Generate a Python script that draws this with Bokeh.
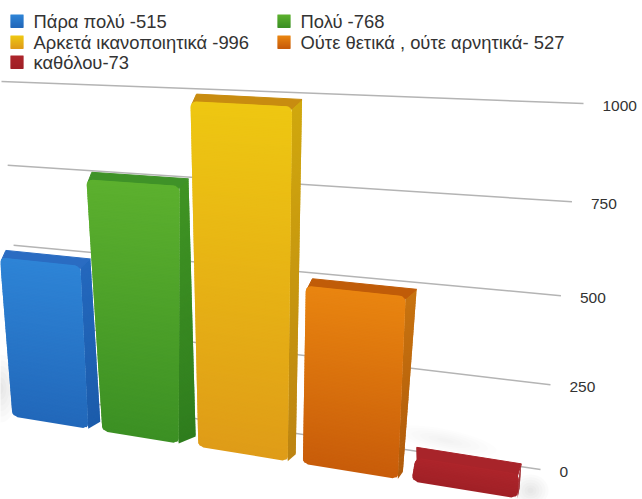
import math
from bokeh.plotting import figure
from bokeh.core.properties import value
from bokeh.embed import file_html
from bokeh.resources import INLINE

# Chart data
legend_names = ["Πάρα πολύ -", "Πολύ -", "Αρκετά ικανοποιητικά -",
                "Ούτε θετικά , ούτε αρνητικά- ", "καθόλου-"]
responses = [515, 768, 996, 527, 73]
tick_values = [0, 250, 500, 750, 1000]

# Colours per bar: front top, front bottom, side top, side bottom, top face
bar_colors = [
    ("#2e84d6", "#2268ba", "#2468bd", "#1c5cab", "#2a6cc2"),
    ("#5cb02e", "#3c9024", "#409424", "#2f7d1e", "#3f9228"),
    ("#eec712", "#df9c18", "#d0a80e", "#bd8412", "#c88c10"),
    ("#e98510", "#c85c0a", "#c87410", "#b05a0a", "#c05c08"),
    ("#ad252b", "#a02026", "#9a1e24", "#941c22", "#a8242a"),
]

# Horizontal extents of the bars along the floor line, as fractions of its length
bar_spans = [(0.0, 0.150), (0.178, 0.329), (0.368, 0.545), (0.575, 0.763), (0.790, 1.0)]
# Sideways lean of each bar's left and right edge at its top, in plot units
bar_lean = [(-1, 0), (-5, 6), (-3, 0), (0, 0), (3, 0)]
# Side-face width at the foot and at the top of each bar
bar_depth = [(12, 10), (17, 9), (8, 10), (5, 11), (2, 2)]
# Height of the top face of each bar
bar_top = [7, 7, 7, 7, 10]
corner_radius = [5, 5, 5, 5, 6]


def rise(v, k):
    # Perspective compression of the value scale
    t = v / 1000
    return t * (1 - k * (1 - t))


def lerp(a, b, t):
    return a + (b - a) * t


def plane(corners, k, s, v):
    (ax, ay), (bx, by), (cx, cy), (dx, dy) = corners
    f = rise(v, k)
    bot = (lerp(ax, bx, s), lerp(ay, by, s))
    top = (lerp(dx, cx, s), lerp(dy, cy, s))
    return lerp(bot[0], top[0], f), lerp(bot[1], top[1], f)


# Corners: floor-left, floor-right, top-right, top-left
FRONT = ((12, 416), (517, 498), (545, 118), (-12, 88))
WALL = ((24, 393), (540, 469), (583, 103), (1, 81))


def front(s, v):
    return plane(FRONT, 0.12, s, v)


def wall(s, v):
    return plane(WALL, 0.10, s, v)


def mix(c0, c1, t):
    a = [int(c0[i:i + 2], 16) for i in (1, 3, 5)]
    b = [int(c1[i:i + 2], 16) for i in (1, 3, 5)]
    return "#%02x%02x%02x" % tuple(round(lerp(x, y, t)) for x, y in zip(a, b))


p = figure(width=642, height=499, x_range=(0, 642), y_range=(499, 0),
           toolbar_location=None, output_backend="svg", min_border=0)
p.axis.visible = False
p.grid.visible = False
p.outline_line_color = None
p.background_fill_color = "white"
p.border_fill_color = "white"

# Soft contact shadows on the wall
for cx, cy, rx, ry, ang, alpha in [(0, 388, 18, 34, 0.0, 0.03),
                                   (445, 440, 52, 11, -0.2, 0.014),
                                   (530, 490, 18, 16, 0.0, 0.03)]:
    for i in range(6):
        g = 1 - i / 6
        p.ellipse(cx, cy, width=2 * rx * g, height=2 * ry * g, angle=ang,
                  fill_color="#707070", fill_alpha=alpha, line_color=None)

# Gridlines receding behind the bars, with their value labels
for tv in tick_values:
    x0, y0 = wall(0, tv)
    x1, y1 = wall(1, tv)
    p.line([x0, x1], [y0, y1], line_color="#b4b4b4", line_width=1.5)
    p.text([x1 + 19], [y1 + 2], text=[str(tv)], text_font=value("Liberation Sans"),
           text_font_size="15.5px", text_color="#333333",
           text_align="left", text_baseline="middle")


def draw_bar(val, span, lean, side, top_h, colors, radius):
    s0, s1 = span
    ftop, fbot, stop, sbot, tface = colors

    def pos(s, v):
        x, y = front(s, v)
        return x + lerp(lean[0], lean[1], (s - s0) / (s1 - s0)) * v / val, y

    def depth(v):
        return lerp(side[0], side[1], v / val), -top_h

    width_px = pos(s1, 0)[0] - pos(s0, 0)[0]
    height_px = pos(s0, 0)[1] - pos(s0, val)[1]
    n = max(10, int(height_px / 1.5))
    step = val / n

    # Right side face; each strip runs under the next one up to avoid seams
    xs, ys, cs = [], [], []
    for j in range(n):
        v0, v1 = j * step, min(val, (j + 1.8) * step)
        a, b = pos(s1, v0), pos(s1, v1)
        da, db = depth(v0), depth(v1)
        xs.append([a[0], b[0], b[0] + db[0], a[0] + da[0]])
        ys.append([a[1], b[1], b[1] + db[1], a[1] + da[1]])
        cs.append(mix(sbot, stop, (j + 0.5) / n))
    p.patches(xs, ys, fill_color=cs, line_color=None)

    # Top face, reaching down behind the rounded corners of the front
    a, b = pos(s0, val), pos(s1, val)
    d = depth(val)
    p.patch([a[0] + 1.5, a[0] + 3, b[0] - 3, b[0] + d[0], a[0] + d[0] * 0.6],
            [a[1] + radius * 0.6, a[1] + radius, b[1] + radius, b[1] + d[1], a[1] + d[1]],
            fill_color=tface, line_color=tface, line_width=1)

    # Front face, narrowed near both ends to round its corners
    def inset(v):
        dist = min(v, val - v) / val * height_px
        if dist >= radius:
            return 0.0
        return (radius - math.sqrt(max(radius ** 2 - (radius - dist) ** 2, 0))) / width_px * (s1 - s0)

    xs, ys, cs = [], [], []
    for j in range(n):
        v0, v1 = j * step, min(val, (j + 1.8) * step)
        i0, i1 = inset(v0), inset(v1)
        pts = [pos(s0 + i0, v0), pos(s1 - i0, v0), pos(s1 - i1, v1), pos(s0 + i1, v1)]
        xs.append([q[0] for q in pts])
        ys.append([q[1] for q in pts])
        cs.append(mix(fbot, ftop, (j + 0.5) / n))
    p.patches(xs, ys, fill_color=cs, line_color=None)


for val, span, lean, side, top_h, colors, radius in zip(responses, bar_spans, bar_lean, bar_depth,
                                                        bar_top, bar_colors, corner_radius):
    draw_bar(val, span, lean, side, top_h, colors, radius)

# Legend
legend_x = [10, 277, 10, 277, 10]
legend_y = [14, 14, 35, 35, 55]
for name, val, colors, lx, ly in zip(legend_names, responses, bar_colors, legend_x, legend_y):
    for j in range(13):
        c = mix(colors[0], colors[1], j / 12)
        p.quad(left=[lx], right=[lx + 13], top=[ly + j], bottom=[ly + j + 1.5],
               fill_color=c, line_color=None)
    p.text([lx + 23], [ly + 6.5], text=[f"{name}{val}"], text_font=value("Liberation Sans"),
           text_font_size="18.4px", text_color="#333333",
           text_align="left", text_baseline="middle")

open("out.html", "w").write(file_html(p, INLINE))
